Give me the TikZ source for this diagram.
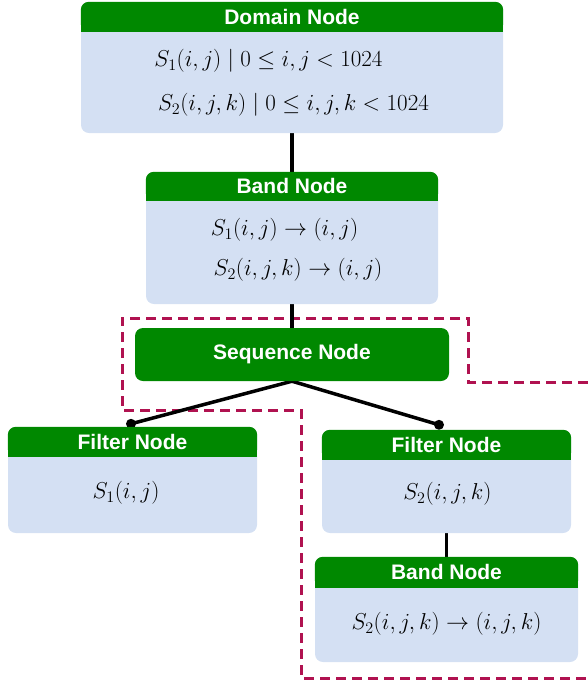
\RequirePackage{fix-cm}
\documentclass[tikz,border=0pt]{standalone}
\usepackage{fontspec}
\setmainfont{Liberation Sans}
\usetikzlibrary{calc,backgrounds}
\definecolor{hgreen}{RGB}{0,136,0}
\definecolor{boxblue}{RGB}{212,224,243}
\definecolor{dashred}{RGB}{176,18,80}
\tikzset{
 body/.style={fill=boxblue, rounded corners=8pt, inner sep=0pt},
 hdrtext/.style={text=white, font=\fontsize{21}{24}\selectfont\bfseries, inner sep=0pt},
 mtext/.style={font=\fontsize{23}{26}\selectfont, inner sep=0pt},
 conn/.style={line width=3.5pt, black},
 dotend/.style={circle, fill=black, inner sep=0pt, minimum size=10pt},
 bound/.style={dashred, line width=3pt, dash pattern=on 10pt off 6pt},
}
\newcommand\mkbox[7]{%
 \node[body, minimum width={(#4-#2)*1pt}, minimum height={(#5-#3)*1pt}] (#1) at ({(#2+#4)/2},{(#3+#5)/2}) {};
 \fill[hgreen, rounded corners=8pt] (#1.north west) rectangle ([yshift={-#6*1pt}]#1.north east);
 \fill[hgreen] ([yshift=-12pt]#1.north west) rectangle ([yshift={-#6*1pt}]#1.north east);
 \node[hdrtext] (#1h) at ([yshift={-#6*0.5pt}]#1.north) {#7};
}
\begin{document}
\begin{tikzpicture}[x=1pt,y=-1pt]
\useasboundingbox (0,0) rectangle (588,681);
\mkbox{dom}{81}{2}{503}{133}{30}{Domain Node}
\mkbox{ba}{146}{172}{438}{304}{29}{Band Node}
\node[fill=hgreen, rounded corners=8pt, minimum width=314pt, minimum height=53pt, hdrtext] (seq) at (292,354.5) {Sequence Node};
\mkbox{fl}{8}{427}{257}{533}{30}{Filter Node}
\mkbox{fr}{322}{430}{571}{533}{30}{Filter Node}
\mkbox{bb}{315}{557}{578}{662}{31}{Band Node}

\node[mtext] (d1) at (268.5,61) {$S_1(i,j)\mid 0\le i,j<1024$};
\node[mtext] (d2) at (293.5,105) {$S_2(i,j,k)\mid 0\le i,j,k<1024$};
\node[mtext] (a1) at (284.5,230) {$S_1(i,j)\rightarrow(i,j)$};
\node[mtext] (a2) at (298,270) {$S_2(i,j,k)\rightarrow(i,j)$};
\node[mtext] (f1) at (126,493) {$S_1(i,j)$};
\node[mtext] (f2) at (447.5,494) {$S_2(i,j,k)$};
\node[mtext] (b2t) at (446.5,624) {$S_2(i,j,k)\rightarrow(i,j,k)$};

\begin{pgfonlayer}{background}
\draw[bound] (588,382) -- (468,382) -- (468,318) -- (122,318) -- (122,410) -- (301,410) -- (301,678) -- (588,678);
\draw[conn] (dom.south) -- (ba.north);
\draw[conn] (ba.south) -- (seq.north);
\draw[conn] (seq.south) -- ($(fl.north)+(-1.5,-3)$) node[dotend] {};
\draw[conn] (seq.south) -- ($(fr.north)+(-7.5,-5)$) node[dotend] {};
\draw[conn] (fr.south) -- (bb.north);
\end{pgfonlayer}
\end{tikzpicture}
\end{document}
